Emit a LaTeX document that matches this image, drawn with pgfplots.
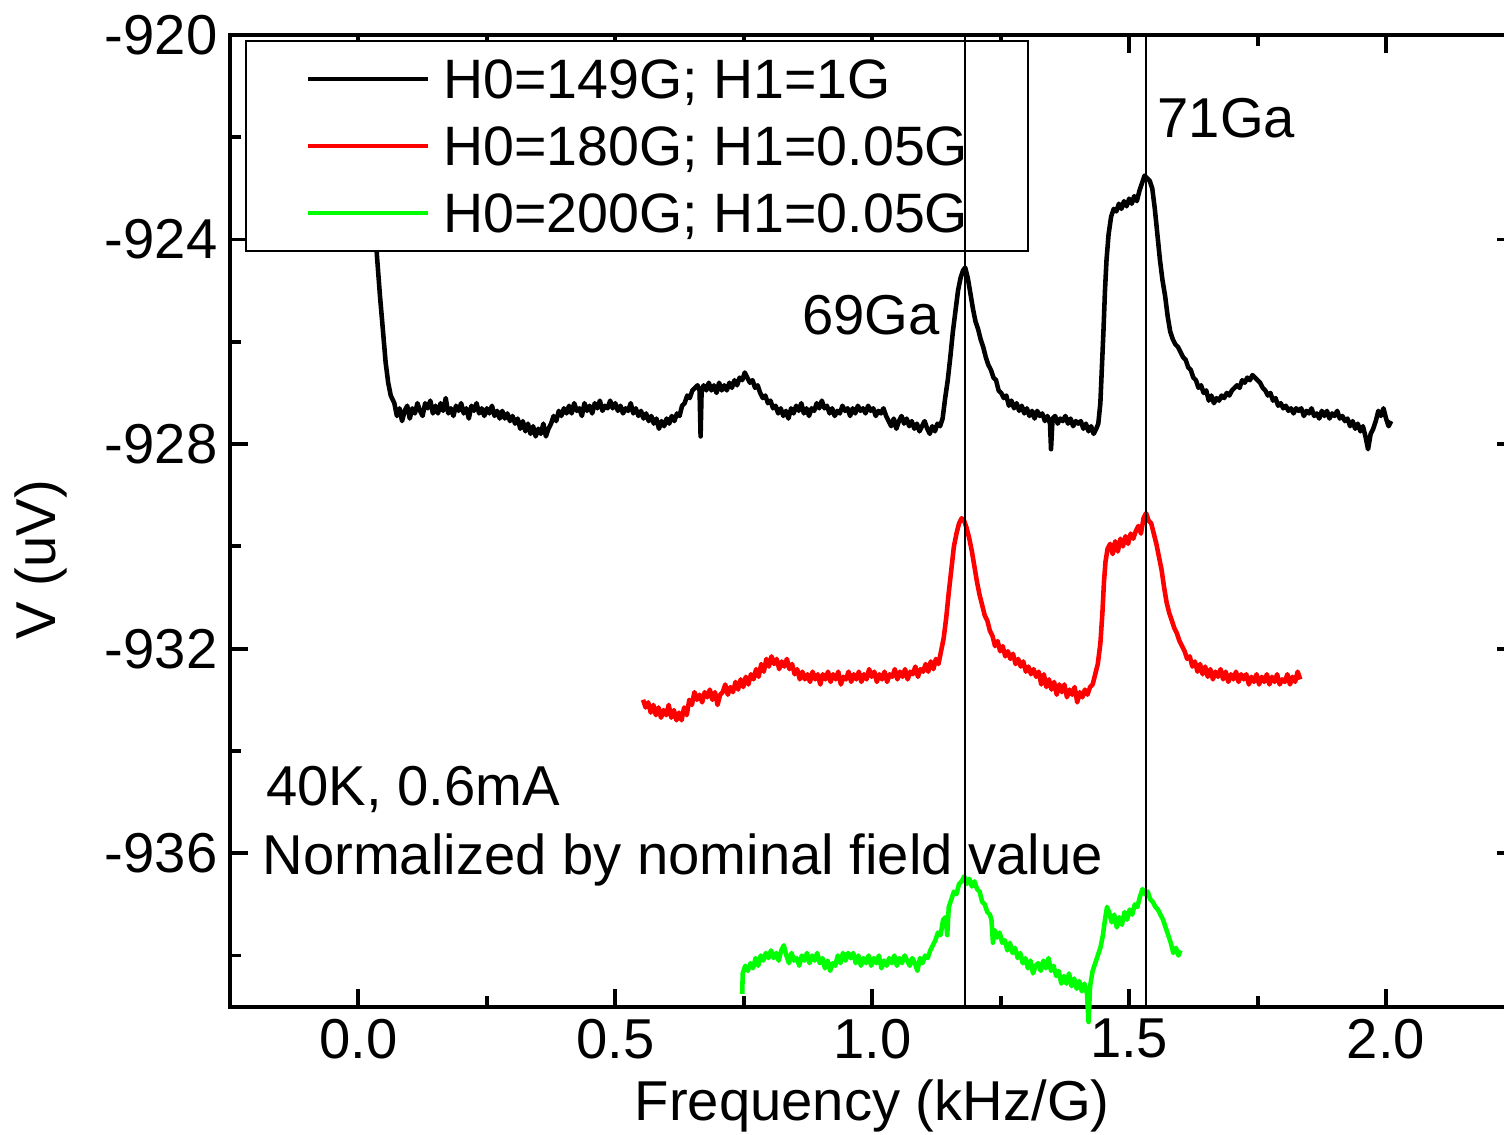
\documentclass[border=0pt]{standalone}
\usepackage{pgfplots}
\usepackage{pgfplotstable}
\pgfplotsset{compat=1.18}
\usepackage{fontspec}
\setmainfont{Liberation Sans}
\definecolor{myred}{RGB}{255,0,0}
\definecolor{mygreen}{RGB}{0,255,0}

\pgfplotstableread{
x y
0.030 -923.2
0.036 -924.3
0.042 -925.1
0.048 -925.8
0.053 -926.4
0.058 -926.8
0.063 -927.05
0.070 -927.2
0.075 -927.45
0.080 -927.3
0.085 -927.55
0.090 -927.35
0.095 -927.25
0.100 -927.5
0.105 -927.3
0.110 -927.4
0.115 -927.2
0.120 -927.35
0.125 -927.45
0.130 -927.2
0.135 -927.3
0.140 -927.15
0.145 -927.4
0.150 -927.25
0.155 -927.4
0.160 -927.2
0.165 -927.35
0.170 -927.1
0.175 -927.4
0.180 -927.3
0.185 -927.45
0.190 -927.25
0.195 -927.35
0.200 -927.2
0.205 -927.4
0.210 -927.3
0.215 -927.5
0.220 -927.25
0.225 -927.35
0.230 -927.2
0.235 -927.4
0.240 -927.3
0.245 -927.45
0.250 -927.3
0.255 -927.4
0.260 -927.25
0.265 -927.45
0.270 -927.35
0.275 -927.5
0.280 -927.35
0.285 -927.5
0.290 -927.4
0.295 -927.55
0.300 -927.45
0.305 -927.6
0.310 -927.5
0.315 -927.7
0.320 -927.55
0.325 -927.75
0.330 -927.6
0.335 -927.8
0.340 -927.65
0.345 -927.85
0.350 -927.7
0.355 -927.8
0.360 -927.6
0.365 -927.85
0.370 -927.7
0.375 -927.6
0.380 -927.45
0.385 -927.55
0.390 -927.35
0.395 -927.45
0.400 -927.3
0.405 -927.4
0.410 -927.25
0.415 -927.4
0.420 -927.2
0.425 -927.35
0.430 -927.3
0.435 -927.45
0.440 -927.2
0.445 -927.35
0.450 -927.25
0.455 -927.4
0.460 -927.2
0.465 -927.3
0.470 -927.15
0.475 -927.35
0.480 -927.25
0.485 -927.3
0.490 -927.15
0.495 -927.3
0.500 -927.2
0.505 -927.35
0.510 -927.25
0.515 -927.4
0.520 -927.3
0.525 -927.35
0.530 -927.2
0.535 -927.4
0.540 -927.3
0.545 -927.45
0.550 -927.35
0.555 -927.5
0.560 -927.4
0.565 -927.55
0.570 -927.45
0.575 -927.6
0.580 -927.5
0.585 -927.7
0.590 -927.55
0.595 -927.65
0.600 -927.5
0.605 -927.6
0.610 -927.45
0.615 -927.55
0.620 -927.4
0.625 -927.45
0.630 -927.25
0.635 -927.2
0.640 -927.05
0.645 -927.1
0.650 -926.95
0.655 -926.9
0.660 -926.85
0.664 -926.95
0.666 -927.85
0.668 -926.95
0.672 -926.85
0.677 -926.95
0.682 -926.8
0.687 -926.95
0.692 -926.85
0.697 -927.0
0.702 -926.8
0.707 -926.95
0.712 -926.85
0.717 -926.95
0.722 -926.8
0.727 -926.9
0.732 -926.75
0.737 -926.85
0.742 -926.7
0.747 -926.75
0.752 -926.6
0.757 -926.7
0.762 -926.8
0.767 -926.75
0.772 -926.9
0.777 -926.85
0.782 -927.0
0.787 -927.1
0.792 -927.05
0.797 -927.2
0.802 -927.15
0.807 -927.3
0.812 -927.25
0.817 -927.4
0.822 -927.3
0.827 -927.45
0.832 -927.35
0.837 -927.5
0.842 -927.3
0.847 -927.4
0.852 -927.25
0.857 -927.35
0.862 -927.2
0.867 -927.4
0.872 -927.3
0.877 -927.45
0.882 -927.3
0.887 -927.35
0.892 -927.2
0.897 -927.3
0.902 -927.15
0.907 -927.3
0.912 -927.25
0.917 -927.4
0.922 -927.3
0.927 -927.45
0.932 -927.35
0.937 -927.4
0.942 -927.25
0.947 -927.35
0.952 -927.3
0.957 -927.45
0.962 -927.3
0.967 -927.4
0.972 -927.25
0.977 -927.35
0.982 -927.3
0.987 -927.4
0.992 -927.25
0.997 -927.35
1.002 -927.3
1.007 -927.45
1.012 -927.35
1.017 -927.4
1.022 -927.3
1.027 -927.45
1.032 -927.55
1.037 -927.65
1.042 -927.5
1.047 -927.7
1.052 -927.55
1.057 -927.45
1.062 -927.6
1.067 -927.5
1.072 -927.65
1.077 -927.55
1.082 -927.7
1.087 -927.6
1.092 -927.75
1.097 -927.65
1.102 -927.55
1.107 -927.7
1.112 -927.8
1.117 -927.65
1.122 -927.75
1.127 -927.6
1.132 -927.65
1.137 -927.5
1.142 -927.1
1.147 -926.75
1.152 -926.3
1.157 -925.8
1.162 -925.4
1.167 -925.0
1.172 -924.75
1.177 -924.6
1.181 -924.55
1.186 -924.75
1.191 -925.05
1.196 -925.35
1.201 -925.6
1.206 -925.75
1.211 -925.95
1.216 -926.1
1.221 -926.3
1.226 -926.45
1.231 -926.55
1.236 -926.7
1.241 -926.75
1.246 -926.95
1.251 -927.0
1.256 -927.1
1.261 -927.05
1.266 -927.25
1.271 -927.15
1.276 -927.3
1.281 -927.2
1.286 -927.35
1.291 -927.25
1.296 -927.4
1.301 -927.3
1.306 -927.45
1.311 -927.35
1.316 -927.5
1.321 -927.35
1.326 -927.45
1.331 -927.4
1.336 -927.55
1.341 -927.45
1.346 -927.6
1.348 -928.1
1.351 -927.5
1.356 -927.45
1.361 -927.6
1.366 -927.5
1.371 -927.55
1.376 -927.45
1.381 -927.6
1.386 -927.5
1.391 -927.65
1.396 -927.55
1.401 -927.6
1.406 -927.55
1.411 -927.7
1.416 -927.6
1.421 -927.75
1.426 -927.65
1.431 -927.8
1.436 -927.7
1.440 -927.6
1.444 -927.2
1.447 -926.5
1.450 -925.8
1.453 -925.0
1.456 -924.4
1.460 -923.9
1.465 -923.55
1.470 -923.4
1.475 -923.45
1.480 -923.3
1.485 -923.4
1.490 -923.25
1.495 -923.35
1.500 -923.2
1.505 -923.3
1.510 -923.15
1.515 -923.25
1.520 -923.05
1.525 -922.9
1.530 -922.75
1.535 -922.8
1.540 -922.85
1.545 -923.0
1.550 -923.4
1.555 -923.9
1.560 -924.4
1.565 -924.8
1.570 -925.1
1.575 -925.5
1.580 -925.8
1.585 -925.95
1.590 -926.05
1.595 -926.1
1.600 -926.2
1.605 -926.3
1.610 -926.35
1.615 -926.5
1.620 -926.55
1.625 -926.7
1.630 -926.75
1.635 -926.9
1.640 -926.85
1.645 -927.0
1.650 -926.95
1.655 -927.15
1.660 -927.05
1.665 -927.2
1.670 -927.1
1.675 -927.15
1.680 -927.05
1.685 -927.1
1.690 -927.0
1.695 -927.05
1.700 -926.95
1.705 -926.9
1.710 -926.85
1.715 -926.9
1.720 -926.75
1.725 -926.8
1.730 -926.7
1.735 -926.75
1.740 -926.65
1.745 -926.7
1.750 -926.75
1.755 -926.8
1.760 -926.9
1.765 -926.95
1.770 -927.05
1.775 -927.0
1.780 -927.15
1.785 -927.1
1.790 -927.25
1.795 -927.2
1.800 -927.3
1.805 -927.25
1.810 -927.35
1.815 -927.3
1.820 -927.4
1.825 -927.3
1.830 -927.35
1.835 -927.3
1.840 -927.45
1.845 -927.35
1.850 -927.4
1.855 -927.3
1.860 -927.45
1.865 -927.4
1.870 -927.5
1.875 -927.35
1.880 -927.45
1.885 -927.35
1.890 -927.5
1.895 -927.4
1.900 -927.45
1.905 -927.35
1.910 -927.5
1.915 -927.45
1.920 -927.55
1.925 -927.5
1.930 -927.65
1.935 -927.55
1.940 -927.7
1.945 -927.6
1.950 -927.75
1.955 -927.65
1.960 -927.85
1.965 -928.1
1.970 -927.8
1.975 -927.7
1.980 -927.55
1.985 -927.35
1.990 -927.45
1.995 -927.3
2.000 -927.5
2.005 -927.65
2.010 -927.55
}\blackdata

\pgfplotstableread{
x y
0.554 -933.0
0.559 -933.15
0.564 -933.05
0.569 -933.25
0.574 -933.1
0.579 -933.3
0.584 -933.15
0.589 -933.35
0.594 -933.2
0.599 -933.3
0.604 -933.1
0.609 -933.35
0.614 -933.2
0.619 -933.4
0.624 -933.25
0.629 -933.4
0.634 -933.15
0.639 -933.3
0.644 -933.0
0.649 -933.1
0.654 -932.85
0.659 -933.0
0.664 -932.9
0.669 -933.05
0.674 -932.85
0.679 -932.95
0.684 -932.8
0.689 -933.0
0.694 -932.85
0.699 -933.1
0.704 -932.9
0.709 -932.85
0.714 -932.7
0.719 -932.9
0.724 -932.75
0.729 -932.85
0.734 -932.65
0.739 -932.8
0.744 -932.6
0.749 -932.75
0.754 -932.55
0.759 -932.7
0.764 -932.5
0.769 -932.6
0.774 -932.4
0.779 -932.55
0.784 -932.3
0.789 -932.45
0.794 -932.2
0.799 -932.35
0.804 -932.15
0.809 -932.3
0.814 -932.2
0.819 -932.4
0.824 -932.25
0.829 -932.35
0.834 -932.2
0.839 -932.4
0.844 -932.3
0.849 -932.5
0.854 -932.4
0.859 -932.6
0.864 -932.45
0.869 -932.6
0.874 -932.5
0.879 -932.65
0.884 -932.45
0.889 -932.6
0.894 -932.5
0.899 -932.7
0.904 -932.5
0.909 -932.6
0.914 -932.45
0.919 -932.65
0.924 -932.5
0.929 -932.6
0.934 -932.45
0.939 -932.7
0.944 -932.55
0.949 -932.6
0.954 -932.45
0.959 -932.65
0.964 -932.5
0.969 -932.6
0.974 -932.45
0.979 -932.65
0.984 -932.5
0.989 -932.6
0.994 -932.4
0.999 -932.55
1.004 -932.45
1.009 -932.65
1.014 -932.5
1.019 -932.6
1.024 -932.45
1.029 -932.65
1.034 -932.5
1.039 -932.55
1.044 -932.4
1.049 -932.6
1.054 -932.45
1.059 -932.55
1.064 -932.4
1.069 -932.6
1.074 -932.45
1.079 -932.5
1.084 -932.35
1.089 -932.55
1.094 -932.4
1.099 -932.45
1.104 -932.3
1.109 -932.45
1.114 -932.25
1.119 -932.4
1.124 -932.2
1.129 -932.3
1.134 -932.05
1.139 -931.8
1.144 -931.4
1.149 -930.9
1.154 -930.45
1.159 -930.0
1.164 -929.75
1.169 -929.55
1.174 -929.45
1.179 -929.5
1.184 -929.65
1.189 -929.85
1.194 -930.1
1.199 -930.4
1.204 -930.7
1.209 -930.95
1.214 -931.15
1.219 -931.35
1.224 -931.45
1.229 -931.65
1.234 -931.75
1.239 -931.95
1.244 -931.85
1.249 -932.05
1.254 -931.95
1.259 -932.15
1.264 -932.05
1.269 -932.2
1.274 -932.1
1.279 -932.3
1.284 -932.2
1.289 -932.35
1.294 -932.25
1.299 -932.45
1.304 -932.35
1.309 -932.5
1.314 -932.4
1.319 -932.55
1.324 -932.45
1.329 -932.7
1.334 -932.5
1.339 -932.75
1.344 -932.6
1.349 -932.8
1.354 -932.65
1.359 -932.9
1.364 -932.7
1.369 -932.85
1.374 -932.7
1.379 -932.95
1.384 -932.8
1.389 -932.9
1.394 -932.75
1.399 -933.05
1.404 -932.85
1.409 -932.95
1.414 -932.8
1.419 -932.9
1.424 -932.75
1.429 -932.7
1.434 -932.5
1.439 -932.3
1.444 -931.9
1.448 -931.3
1.451 -930.7
1.454 -930.3
1.458 -930.05
1.463 -929.95
1.468 -930.15
1.473 -929.9
1.478 -930.1
1.483 -929.85
1.488 -930.0
1.493 -929.8
1.498 -929.95
1.503 -929.75
1.508 -929.85
1.513 -929.7
1.518 -929.6
1.523 -929.75
1.528 -929.45
1.533 -929.35
1.538 -929.5
1.543 -929.55
1.548 -929.75
1.553 -929.95
1.558 -930.2
1.563 -930.45
1.568 -930.8
1.573 -931.1
1.578 -931.3
1.583 -931.45
1.588 -931.6
1.593 -931.7
1.598 -931.85
1.603 -931.95
1.608 -932.05
1.613 -932.2
1.618 -932.15
1.623 -932.35
1.628 -932.25
1.633 -932.45
1.638 -932.3
1.643 -932.5
1.648 -932.35
1.653 -932.55
1.658 -932.4
1.663 -932.6
1.668 -932.45
1.673 -932.55
1.678 -932.4
1.683 -932.6
1.688 -932.45
1.693 -932.65
1.698 -932.5
1.703 -932.6
1.708 -932.45
1.713 -932.65
1.718 -932.5
1.723 -932.6
1.728 -932.5
1.733 -932.7
1.738 -932.55
1.743 -932.65
1.748 -932.5
1.753 -932.7
1.758 -932.55
1.763 -932.65
1.768 -932.5
1.773 -932.7
1.778 -932.55
1.783 -932.65
1.788 -932.5
1.793 -932.7
1.798 -932.6
1.803 -932.65
1.808 -932.5
1.813 -932.7
1.818 -932.55
1.823 -932.65
1.828 -932.45
1.833 -932.6
}\reddata

\pgfplotstableread{
x y
0.747 -938.75
0.748 -938.35
0.753 -938.2
0.758 -938.3
0.763 -938.15
0.768 -938.25
0.773 -938.05
0.778 -938.2
0.783 -938.0
0.788 -938.1
0.793 -937.95
0.798 -938.05
0.803 -937.9
0.808 -938.05
0.813 -937.95
0.818 -938.1
0.823 -937.9
0.828 -937.8
0.833 -938.0
0.838 -938.15
0.843 -937.95
0.848 -938.1
0.853 -938.05
0.858 -938.2
0.863 -938.0
0.868 -938.1
0.873 -937.95
0.878 -938.15
0.883 -938.0
0.888 -938.1
0.893 -937.95
0.898 -938.15
0.903 -938.05
0.908 -938.25
0.913 -938.1
0.918 -938.3
0.923 -938.15
0.928 -938.2
0.933 -938.0
0.938 -938.15
0.943 -937.95
0.948 -938.1
0.953 -937.95
0.958 -938.05
0.963 -937.95
0.968 -938.15
0.973 -938.0
0.978 -938.2
0.983 -938.05
0.988 -938.15
0.993 -938.0
0.998 -938.2
1.003 -938.05
1.008 -938.15
1.013 -938.0
1.018 -938.25
1.023 -938.1
1.028 -938.2
1.033 -938.05
1.038 -938.15
1.043 -938.0
1.048 -938.2
1.053 -938.05
1.058 -938.15
1.063 -938.0
1.068 -938.1
1.073 -938.2
1.078 -938.05
1.083 -938.15
1.088 -938.3
1.093 -938.05
1.098 -938.15
1.103 -938.0
1.108 -938.05
1.113 -937.9
1.118 -937.8
1.123 -937.7
1.128 -937.55
1.133 -937.6
1.138 -937.3
1.143 -937.25
1.146 -937.6
1.149 -937.05
1.154 -936.9
1.159 -936.75
1.164 -936.8
1.169 -936.6
1.174 -936.55
1.179 -936.45
1.184 -936.6
1.189 -936.5
1.194 -936.65
1.199 -936.55
1.204 -936.7
1.209 -936.75
1.214 -936.95
1.219 -937.0
1.224 -937.15
1.229 -937.2
1.232 -937.3
1.235 -937.75
1.238 -937.5
1.243 -937.65
1.248 -937.55
1.253 -937.75
1.258 -937.7
1.263 -937.9
1.268 -937.75
1.273 -937.95
1.278 -937.85
1.283 -938.05
1.288 -937.95
1.293 -938.15
1.298 -938.05
1.303 -938.25
1.308 -938.1
1.313 -938.35
1.318 -938.2
1.323 -938.15
1.328 -938.3
1.333 -938.1
1.338 -938.25
1.343 -938.05
1.348 -938.3
1.353 -938.2
1.358 -938.4
1.363 -938.3
1.368 -938.55
1.373 -938.4
1.378 -938.55
1.383 -938.35
1.388 -938.6
1.393 -938.45
1.398 -938.65
1.403 -938.5
1.408 -938.7
1.413 -938.55
1.418 -938.75
1.421 -939.3
1.424 -938.6
1.429 -938.3
1.434 -938.15
1.439 -938.0
1.444 -937.85
1.449 -937.6
1.453 -937.3
1.457 -937.05
1.461 -937.15
1.466 -937.35
1.471 -937.2
1.476 -937.45
1.481 -937.25
1.486 -937.4
1.491 -937.15
1.496 -937.3
1.501 -937.1
1.506 -937.2
1.511 -937.0
1.516 -937.05
1.521 -936.85
1.526 -936.7
1.531 -936.8
1.536 -936.75
1.541 -936.9
1.546 -936.95
1.551 -937.05
1.556 -937.1
1.561 -937.2
1.566 -937.3
1.571 -937.45
1.576 -937.6
1.581 -937.75
1.586 -937.95
1.591 -937.85
1.596 -938.0
1.600 -937.9
}\greendata

\pgfplotsset{
  commonaxis/.style={
    scale only axis,
    width=128.5mm, height=97.2mm,
    xmin=-0.25, xmax=2.25,
    ymin=-939, ymax=-920,
  }
}

\begin{document}
\begin{tikzpicture}
\begin{axis}[
  commonaxis,
  name=ax,
  clip=false,
  axis line style={line width=1.1pt, black},
  tick align=inside,
  xtick pos=both, ytick pos=both,
  xtick={0,0.5,1,1.5,2},
  xticklabels={0.0,0.5,1.0,1.5,2.0},
  minor xtick={-0.25,0.25,0.75,1.25,1.75,2.25},
  ytick={-936,-932,-928,-924,-920},
  yticklabels={-936,-932,-928,-924,-920},
  minor ytick={-938,-934,-930,-926,-922},
  major tick length=1.8mm,
  minor tick length=1.1mm,
  every tick/.style={line width=1.1pt, black},
  ticklabel style={font=\fontsize{16}{19}\selectfont},
  /pgf/number format/assume math mode=true,
  xlabel={Frequency (kHz/G)},
  ylabel={V (uV)},
  label style={font=\fontsize{16}{19}\selectfont, inner sep=0pt},
  xlabel style={at={(axis description cs:0.5,-0.075)}, anchor=north},
  ylabel style={at={(axis description cs:-0.168,0.46)}, anchor=north},
  legend cell align=left,
  legend image code/.code={\draw[#1] (0mm,0mm) -- (12mm,0mm);},
  legend style={
    at={(0.0118,0.9949)}, anchor=north west,
    draw=black, line width=0.6pt, fill=white,
    inner xsep=6mm, inner ysep=1.2mm,
    row sep=1.5mm, column sep=1.3mm,
    font=\fontsize{15.8}{19}\selectfont,
    nodes={inner sep=0pt, text height=4.6mm, text depth=0.6mm},
  },
]
\addplot[black, line width=1.3pt, line join=round] table {\blackdata};
\addlegendentry{H0=149G; H1=1G}
\addplot[myred, line width=1.3pt, line join=round] table {\reddata};
\addlegendentry{H0=180G; H1=0.05G}
\addplot[mygreen, line width=1.3pt, line join=round] table {\greendata};
\addlegendentry{H0=200G; H1=0.05G}

\node[anchor=base east, inner sep=0pt, font=\fontsize{16}{19}\selectfont] at (axis cs:1.133,-925.85) {69Ga};
\node[anchor=base west, inner sep=0pt, font=\fontsize{16}{19}\selectfont] at (axis cs:1.554,-922.01) {71Ga};
\node[anchor=base west, inner sep=0pt, font=\fontsize{16}{19}\selectfont] at (axis cs:-0.181,-935.06) {40K, 0.6mA};
\node[anchor=base west, inner sep=0pt, font=\fontsize{16}{19}\selectfont] at (axis cs:-0.188,-936.42) {Normalized by nominal field value};
\end{axis}
\begin{axis}[
  commonaxis,
  at={(ax.south west)}, anchor=south west,
  hide axis, clip=false,
]
\addplot[black, line width=0.55pt] coordinates {(1.181,-939) (1.181,-920)};
\addplot[black, line width=0.55pt] coordinates {(1.533,-939) (1.533,-920)};
\end{axis}
\pgfresetboundingbox
\path ([xshift=-23mm,yshift=-12.8mm]ax.south west) rectangle ([xshift=-1.05mm,yshift=3.5mm]ax.north east);
\end{tikzpicture}
\end{document}
